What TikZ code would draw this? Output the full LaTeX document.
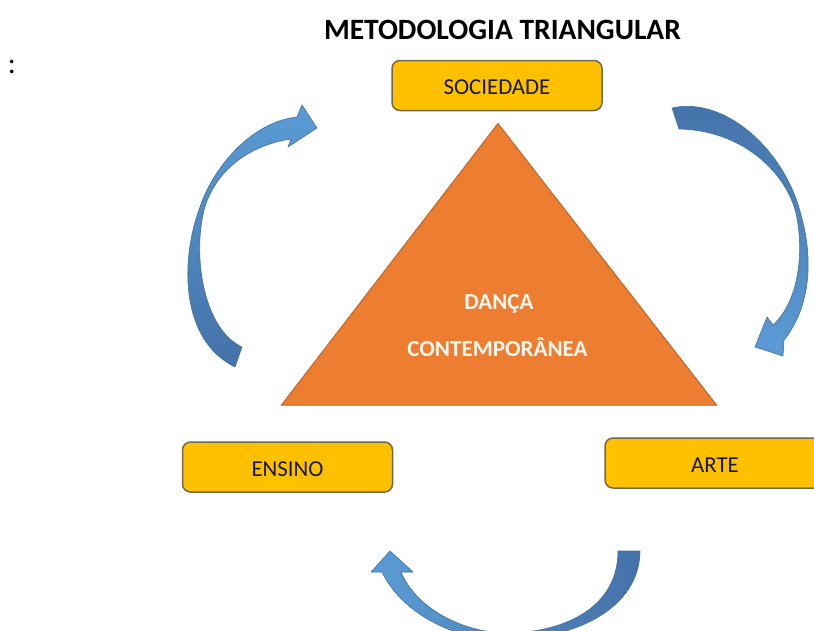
\documentclass[tikz,border=0pt]{standalone}
\usepackage{fontspec}
\setmainfont{Carlito}

\definecolor{caixa}{HTML}{FFC000}
\definecolor{caixaborda}{HTML}{6F6A4A}
\definecolor{laranja}{HTML}{ED7D31}
\definecolor{laranjaborda}{HTML}{C0652A}
\definecolor{azulclaro}{HTML}{5B9BD5}
\definecolor{azulescuro}{HTML}{4472A8}
\definecolor{azulborda}{HTML}{41719C}
\definecolor{creme}{HTML}{FFF6EC}

\tikzset{
    etapa/.style={draw=caixaborda, line width=1.5pt, fill=caixa, rounded corners=8pt,
        minimum width=210pt, minimum height=50pt, inner sep=0pt, text=black!90,
        text height=18pt, text depth=0pt, font=\fontsize{22.8}{27}\selectfont},
    rotulo/.style={anchor=base, text=creme, inner sep=0pt, font=\bfseries\fontsize{23}{27}\selectfont},
    seta/.style={draw=azulborda, line width=0.6pt, line join=round},
}

\begin{document}
\begin{tikzpicture}[x=1pt, y=-1pt]
            % the frame
            \useasboundingbox (0,0) rectangle (814,630);
            \path[clip] (0,0) rectangle (814,630);

            % title
            \node[anchor=base, inner sep=0pt, font=\bfseries\fontsize{29.5}{35}\selectfont] (titulo) at (502.5,39.3) {METODOLOGIA TRIANGULAR};
            \node[anchor=base, inner sep=0pt, font=\fontsize{30}{34}\selectfont] (doispontos) at (12,73.5) {:};

            % the triangle
            \coordinate (topo) at (498,123.5);
            \coordinate (esq) at (281.5,405);
            \coordinate (dir) at (716.5,405);
            \draw[fill=laranja, draw=laranjaborda, line width=1pt] (topo) -- (dir) -- (esq) -- cycle;
            \node[rotulo] (danca) at (499,309) {DANÇA};
            \node[rotulo] (contemp) at (497.5,356) {CONTEMPORÂNEA};

            % the boxes
            \node[etapa] (sociedade) at (497,85.5) {SOCIEDADE};
            \node[etapa] (ensino) at (287.5,467) {ENSINO};
            \node[etapa, minimum width=220pt] (arte) at (715,463) {ARTE};

            % arrows
            \path[seta, top color=azulclaro, bottom color=azulescuro]
                (297,117) .. controls (250,122) and (212,170) .. (200,207)
                .. controls (180,260) and (180,340) .. (235,367) -- (242,347)
                .. controls (205,330) and (192,260) .. (204,210)
                .. controls (215,170) and (250,145) .. (291,139)
                -- (288,147) -- (317,128) -- (302,105) -- cycle;
            \path[seta, top color=azulescuro, bottom color=azulclaro]
                (672,108) .. controls (725,96) and (785,150) .. (801,215)
                .. controls (815,265) and (808,310) .. (784,340)
                -- (783,356) -- (755,347) -- (767,317) -- (773,325)
                .. controls (800,300) and (804,250) .. (796,213)
                .. controls (785,170) and (740,130) .. (679,129) -- cycle;
            \path[seta, left color=azulclaro, right color=azulescuro]
                (640,551) .. controls (640,600) and (590,638) .. (505,640)
                .. controls (450,640) and (400,610) .. (382,572)
                -- (371,572) -- (390,551) -- (413,572) -- (401,572)
                .. controls (415,605) and (455,630) .. (502,633)
                .. controls (560,634) and (618,610) .. (618,551) -- cycle;

        \end{tikzpicture}
\end{document}
